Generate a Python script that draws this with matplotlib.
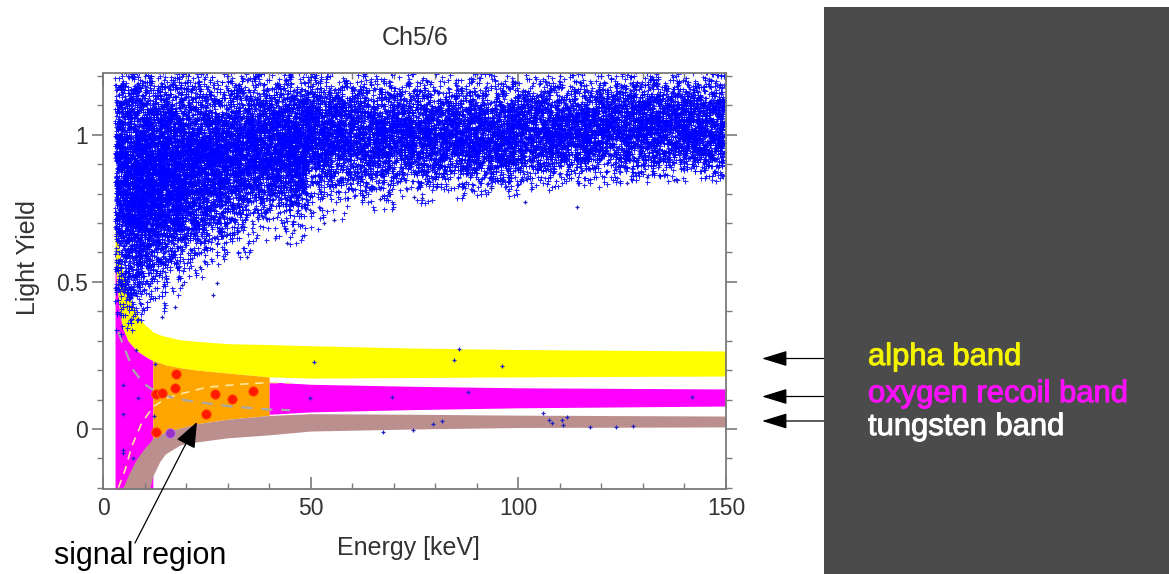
import matplotlib
matplotlib.use("Agg")
import matplotlib.pyplot as plt
import matplotlib.patheffects as pe
import numpy as np
from matplotlib.patches import Rectangle

plt.rcParams['font.family'] = ['Liberation Sans', 'DejaVu Sans']

W, H = 1169, 574

# band edges (light yield) on a common energy grid [keV]
band_e   = [2.9, 3.3, 4.0, 4.8, 6.0, 7.2, 8.2, 10, 11.3, 12, 13.7, 15, 18.6, 22.6, 30, 40, 50, 75, 100, 150]
alpha_hi = [0.72, 0.68, 0.60, 0.53, 0.47, 0.42, 0.39, 0.355, 0.34, 0.33, 0.32, 0.315, 0.303, 0.298, 0.29, 0.287, 0.283, 0.275, 0.27, 0.265]
alpha_lo = [0.56, 0.50, 0.39, 0.34, 0.30, 0.28, 0.265, 0.248, 0.237, 0.232, 0.225, 0.218, 0.208, 0.20, 0.19, 0.177, 0.173, 0.175, 0.177, 0.18]
tung_hi  = [-0.3, -0.3, -0.3, -0.2, -0.16, -0.125, -0.10, -0.065, -0.045, -0.03, -0.018, -0.01, 0.003, 0.018, 0.033, 0.046, 0.052, 0.05, 0.047, 0.044]
tung_lo  = [-0.3, -0.3, -0.3, -0.3, -0.3, -0.3, -0.3, -0.25, -0.2, -0.16, -0.11, -0.085, -0.054, -0.044, -0.03, -0.02, -0.007, 0.0, 0.005, 0.007]

# oxygen recoil band outside the signal region
oxy_e  = [40, 50, 75, 100, 150]
oxy_hi = [0.16, 0.152, 0.145, 0.14, 0.136]
oxy_lo = [0.05, 0.058, 0.066, 0.072, 0.078]

# dashed acceptance lines
dash_up_e  = [3.7, 5.3, 6.9, 9.3, 12.1, 15.3, 17.8, 25, 33, 40.2, 45]
dash_up_ly = [-0.2, -0.14, -0.06, 0.02, 0.076, 0.104, 0.116, 0.142, 0.152, 0.158, 0.157]
dash_dn_e  = [3.7, 5.0, 7.3, 9.7, 12.9, 17, 21, 30.6, 40.2, 45]
dash_dn_ly = [0.33, 0.28, 0.20, 0.155, 0.125, 0.105, 0.095, 0.077, 0.066, 0.064]

# events in the signal region
sig_e  = [12.7, 14.1, 17.5, 17.3, 27.0, 31.1, 36.2, 24.7, 12.7]
sig_ly = [0.118, 0.123, 0.187, 0.138, 0.120, 0.103, 0.129, 0.050, -0.011]
odd_e, odd_ly = [16.2], [-0.015]

# main e/gamma population, per energy bin
cloud_lo    = [2.9, 5, 7.5, 10, 15, 20, 25, 30, 35, 40, 44, 49, 55, 60, 70, 80, 90, 100, 110, 120, 130, 140]
cloud_hi    = [5, 7.5, 10, 15, 20, 25, 30, 35, 40, 44, 49, 55, 60, 70, 80, 90, 100, 110, 120, 130, 140, 149.5]
cloud_mean  = [0.85, 0.82, 0.82, 0.85, 0.88, 0.90, 0.92, 0.94, 0.95, 0.97, 0.95, 1.0, 1.0, 1.0, 1.0, 1.0, 1.0, 1.01, 1.02, 1.03, 1.03, 1.03]
cloud_sigma = [0.24, 0.22, 0.20, 0.18, 0.17, 0.16, 0.15, 0.14, 0.13, 0.12, 0.12, 0.11, 0.10, 0.10, 0.09, 0.09, 0.09, 0.085, 0.085, 0.085, 0.085, 0.085]
cloud_count = [550, 700, 800, 1400, 1200, 1000, 900, 800, 750, 600, 900, 750, 550, 1000, 950, 950, 1000, 900, 900, 900, 900, 900]
cloud_floor = [0.30, 0.33, 0.36, 0.40, 0.45, 0.50, 0.55, 0.58, 0.60, 0.62, 0.62, 0.68, 0.70, 0.74, 0.76, 0.78, 0.79, 0.81, 0.82, 0.83, 0.84, 0.84]

# isolated events outside the main population
stray_e  = [85.6, 84.6, 96.1, 88.0, 141.7, 106.0, 107.3, 108.1, 110.5, 111.6, 110.7, 117.3, 123.5, 127.5, 81.6, 79.4, 74.6,
            50.7, 49.9, 69.6, 67.5, 12.5, 12.3, 8.4, 4.9, 4.7, 4.7, 4.8, 7.3, 8.0, 26.6, 27.4, 19.0, 17.3, 14.1,
            44.3, 55.5, 53.1, 66.7, 68.8, 101.7, 114.1, 74.8, 76.8, 93.5, 131.0, 137.4, 126.2, 23.4, 34.6, 45.9, 49.9]
stray_ly = [0.273, 0.234, 0.214, 0.126, 0.109, 0.054, 0.031, 0.019, 0.031, 0.042, 0.014, 0.007, 0.008, 0.011, 0.026, 0.017, -0.003,
            0.227, 0.106, 0.110, -0.009, 0.22, 0.045, 0.106, 0.15, 0.05, -0.071, -0.08, -0.10, 0.27, 0.456, 0.496, 0.49, 0.415, 0.38,
            0.632, 0.711, 0.70, 0.781, 0.804, 0.773, 0.754, 0.79, 0.785, 0.819, 0.858, 0.847, 0.836, 0.552, 0.586, 0.677, 0.745]


def fx(px):
    return px / W


def fy(py):
    return 1 - py / H


fig = plt.figure(figsize=(W / 100, H / 100), dpi=100)
fig.patches.append(Rectangle((fx(824), 0), 1 - fx(824), fy(7), transform=fig.transFigure,
                             facecolor='#4b4b4b', edgecolor='none', zorder=0))

ax = fig.add_axes([fx(103), fy(489), (726 - 103) / W, (489 - 73) / H])
ax.set_xlim(0, 150)
ax.set_ylim(-0.204, 1.21)

e = np.array(band_e)
a_hi, a_lo = np.array(alpha_hi), np.array(alpha_lo)
t_hi, t_lo = np.array(tung_hi), np.array(tung_lo)

# bands
ax.fill_between(e, a_lo, a_hi, color='#ffff00', lw=0, zorder=1)
ax.fill_between(e, -0.3, a_lo, where=e <= 12, color='#ff00ff', lw=0, zorder=1)
ax.fill_between(e, t_hi, a_lo, where=(e >= 12) & (e <= 40), color='#ffa500', lw=0, zorder=1)
ax.fill_between(oxy_e, oxy_lo, oxy_hi, color='#ff00ff', lw=0, zorder=1)
ax.fill_between(e, t_lo, t_hi, where=e >= 4.8, color='#bc8f8f', lw=0, zorder=1.1)

ax.plot(dash_up_e, dash_up_ly, ls=(0, (5, 4)), color='#ffe8a0', lw=1.2, zorder=1.5)
ax.plot(dash_dn_e, dash_dn_ly, ls=(0, (5, 4)), color='#a8a8a8', lw=1.6, zorder=1.5)

# e/gamma population
rng = np.random.default_rng(11)
xs, ys = [], []
for lo, hi, mu, sg, n, fl in zip(cloud_lo, cloud_hi, cloud_mean, cloud_sigma, cloud_count, cloud_floor):
    y = rng.normal(mu, sg, n * 2)
    y = y[y > fl][:n]
    xs.append(rng.uniform(lo, hi, len(y)))
    ys.append(y)
xs = np.concatenate(xs)
ys = np.concatenate(ys)
ax.plot(xs, ys, ls='none', marker='+', ms=3.6, mew=0.75, color='#0000ff', alpha=0.85, zorder=2)
ax.plot(stray_e, stray_ly, ls='none', marker='+', ms=3.4, mew=0.9, color='#2020c0', zorder=2)

ax.plot(sig_e, sig_ly, ls='none', marker='o', ms=7, color='#ff1a00', mec='#ff6a00', mew=0.6, zorder=3)
ax.plot(odd_e, odd_ly, ls='none', marker='o', ms=7, color='#9a30c8', mec='#c080e0', mew=0.6, zorder=3)

# axes styling
for s in ax.spines.values():
    s.set_color('#7a7a7a')
    s.set_linewidth(1.3)
ax.set_xticks([0, 50, 100, 150])
ax.set_xticks(np.arange(0, 151, 10), minor=True)
ax.set_yticks([0, 0.5, 1])
ax.set_yticklabels(['0', '0.5', '1'])
ax.set_yticks(np.arange(-0.2, 1.21, 0.1), minor=True)
ax.tick_params(axis='x', which='both', direction='in', top=True, bottom=True, color='#7a7a7a',
               labelsize=16.5, labelcolor='#333333', pad=6)
ax.tick_params(axis='x', which='major', length=9, width=1.2)
ax.tick_params(axis='x', which='minor', length=4.5, width=1.0)
ax.tick_params(axis='y', which='both', direction='out', left=True, right=True, color='#7a7a7a',
               labelsize=16.5, labelcolor='#333333', pad=3)
ax.tick_params(axis='y', which='major', length=8, width=1.2)
ax.tick_params(axis='y', which='minor', length=4, width=1.0)

fig.text(fx(415), fy(38), 'Ch5/6', ha='center', va='center', fontsize=18, color='#333333')
fig.text(fx(408), fy(548), 'Energy [keV]', ha='center', va='center', fontsize=18, color='#333333')
fig.text(fx(28), fy(258), 'Light Yield', ha='center', va='center', rotation=90, fontsize=18, color='#333333')

# signal region pointer
fig.text(fx(140), fy(556), 'signal region', ha='center', va='center', fontsize=22, color='black')
ax.annotate('', xy=(fx(197), fy(422)), xycoords='figure fraction', xytext=(fx(135), fy(543)),
            textcoords='figure fraction', annotation_clip=False,
            arrowprops=dict(arrowstyle='-|>,head_length=0.8,head_width=0.32', color='black', lw=0.9,
                            mutation_scale=20, shrinkA=0, shrinkB=0))

# band labels
labels = ['alpha band', 'oxygen recoil band', 'tungsten band']
label_colors = ['#f5f500', '#ff10ff', '#ffffff']
label_base = [365, 402, 435]
arrow_y = [358.5, 396.5, 421]
for txt, col, yb, ya in zip(labels, label_colors, label_base, arrow_y):
    t = fig.text(fx(868), fy(yb), txt, ha='left', va='baseline', fontsize=22.3, color=col)
    t.set_path_effects([pe.withStroke(linewidth=0.7, foreground=col)])
    ax.annotate('', xy=(fx(762), fy(ya)), xycoords='figure fraction', xytext=(fx(853), fy(ya)),
                textcoords='figure fraction', annotation_clip=False,
                arrowprops=dict(arrowstyle='-|>,head_length=0.78,head_width=0.24', color='black', lw=0.9,
                                mutation_scale=20, shrinkA=0, shrinkB=0))

fig.savefig('out.png', dpi=100)
